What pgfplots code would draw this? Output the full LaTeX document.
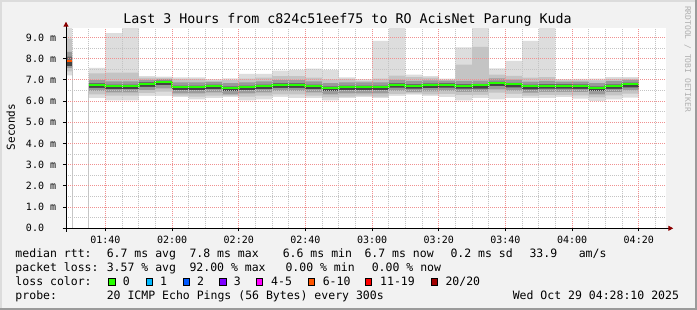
\documentclass[border=0pt]{standalone}
\usepackage{fontspec}
\setmainfont{DejaVu Sans Mono}
\usepackage{pgfplots}
\pgfplotsset{compat=1.18}
\usepackage{pgfplotstable}
\usetikzlibrary{arrows.meta}

\definecolor{bg}{HTML}{F2F2F2}
\definecolor{shadea}{HTML}{DCDCDC}
\definecolor{shadeb}{HTML}{9B9B9B}
\definecolor{mgrid}{HTML}{F09090}
\definecolor{ngrid}{HTML}{C4C4C4}
\definecolor{arrowc}{HTML}{8B0000}
\definecolor{wm}{HTML}{B0B0B0}
\definecolor{s1}{HTML}{DDDDDD}
\definecolor{s2}{HTML}{C4C4C4}
\definecolor{s3}{HTML}{9A9A9A}
\definecolor{s4}{HTML}{6A6A6A}
\definecolor{s5}{HTML}{444444}
\definecolor{l0}{HTML}{26FF00}
\definecolor{l1}{HTML}{00B8FF}
\definecolor{l2}{HTML}{0059FF}
\definecolor{l3}{HTML}{7E00FF}
\definecolor{l45}{HTML}{FF00FF}
\definecolor{l610}{HTML}{FF5500}
\definecolor{l1119}{HTML}{FF0000}
\definecolor{l20}{HTML}{A10000}

\newcommand\lf{\fontsize{11.5}{13}\selectfont}

\pgfplotstableread{
t   mn   l2   l3   l4   md   h4   h3   h2   mx
85  7.21 7.40 7.55 7.65 7.87 8.10 8.32 8.94 9.60
90  0    0    0    0    0    0    0    0    0
95  6.14 6.32 6.47 6.62 6.77 6.84 6.99 7.30 7.56
100 6.03 6.26 6.41 6.56 6.71 6.78 6.93 7.34 9.20
105 6.03 6.26 6.41 6.56 6.71 6.78 6.93 7.34 9.60
110 6.24 6.37 6.52 6.67 6.82 6.89 7.00 7.10 7.18
115 6.24 6.45 6.60 6.75 6.90 6.96 7.03 7.09 7.15
120 6.19 6.25 6.36 6.51 6.66 6.73 6.88 7.04 7.12
125 6.08 6.21 6.36 6.51 6.66 6.73 6.88 7.04 7.12
130 6.14 6.26 6.41 6.56 6.71 6.78 6.90 6.96 7.03
135 6.19 6.25 6.32 6.47 6.62 6.69 6.84 6.99 7.07
140 6.03 6.21 6.36 6.51 6.66 6.73 6.88 7.06 7.28
145 6.08 6.26 6.41 6.56 6.71 6.78 6.93 7.11 7.28
150 6.20 6.32 6.47 6.62 6.77 6.84 6.99 7.17 7.43
155 6.14 6.32 6.47 6.62 6.77 6.84 6.99 7.17 7.47
160 6.14 6.26 6.41 6.56 6.71 6.78 6.93 7.11 7.53
165 6.03 6.17 6.32 6.47 6.62 6.69 6.84 7.02 7.47
170 6.14 6.21 6.36 6.51 6.66 6.73 6.88 7.04 7.12
175 6.19 6.25 6.36 6.51 6.66 6.73 6.88 6.95 7.03
180 6.14 6.21 6.36 6.51 6.66 6.73 6.88 7.06 8.84
185 6.24 6.33 6.48 6.63 6.78 6.85 7.00 7.20 9.60
190 6.30 6.36 6.43 6.58 6.73 6.80 6.95 7.13 7.24
195 6.24 6.31 6.46 6.61 6.76 6.83 6.98 7.10 7.18
200 6.19 6.33 6.48 6.63 6.78 6.85 6.96 7.00 7.06
205 6.03 6.28 6.43 6.58 6.73 6.80 6.95 7.72 8.53
210 6.14 6.29 6.44 6.59 6.74 6.81 6.96 8.55 9.60
215 6.08 6.40 6.55 6.70 6.85 6.92 7.07 7.25 7.54
220 6.14 6.34 6.49 6.64 6.79 6.86 7.01 7.19 7.89
225 6.14 6.25 6.40 6.55 6.70 6.77 6.92 7.10 8.84
230 6.14 6.28 6.43 6.58 6.73 6.80 6.95 7.13 9.60
235 6.19 6.28 6.43 6.58 6.73 6.80 6.92 6.97 7.03
240 6.11 6.27 6.42 6.57 6.72 6.79 6.92 6.98 7.05
245 6.00 6.17 6.32 6.47 6.62 6.69 6.84 6.98 7.06
250 6.08 6.27 6.42 6.57 6.72 6.79 6.94 7.05 7.13
255 6.16 6.35 6.50 6.65 6.80 6.87 7.00 7.06 7.13
260 6.16 6.35 6.50 6.65 6.80 6.87 7.00 7.06 7.13
}\smoke

\begin{document}
\begin{tikzpicture}
\useasboundingbox (0,0) rectangle (697pt,310pt);
\fill[bg] (0,0) rectangle (697pt,310pt);
\fill[shadea] (0,0) rectangle (2pt,310pt);
\fill[shadea] (0,308pt) rectangle (697pt,310pt);
\fill[shadeb] (695pt,0) rectangle (697pt,310pt);
\fill[shadeb] (0,0) rectangle (697pt,2pt);

\begin{axis}[
  at={(66pt,81.7pt)}, anchor=south west,
  scale only axis, width=600pt, height=200pt,
  xmin=88.1667, xmax=268.1667, ymin=0, ymax=9.43,
  axis on top,
  axis background/.style={fill=white},
  axis lines*=left,
  axis line style={draw=black, line width=1pt},
  x axis line style={shorten <=-3.4pt, shorten >=-7.3pt, -{Triangle[length=5pt,width=5pt,color=arrowc]}},
  y axis line style={shorten <=-3.4pt, shorten >=-6.6pt, -{Triangle[length=5pt,width=5pt,color=arrowc]}},
  xtick={100,120,140,160,180,200,220,240,260},
  xticklabels={01:40,02:00,02:20,02:40,03:00,03:20,03:40,04:00,04:20},
  minor xtick={90,95,105,110,115,125,130,135,145,150,155,165,170,175,185,190,195,205,210,215,225,230,235,245,250,255,265},
  ytick={0,1,2,3,4,5,6,7,8,9},
  yticklabels={0.0\hphantom{mm},1.0 m,2.0 m,3.0 m,4.0 m,5.0 m,6.0 m,7.0 m,8.0 m,9.0 m},
  minor ytick={0.5,1.5,2.5,3.5,4.5,5.5,6.5,7.5,8.5},
  grid=both,
  major grid style={draw=mgrid, line width=1pt, dash pattern=on 1pt off 1pt},
  minor grid style={draw=ngrid, line width=1pt, dash pattern=on 1pt off 1pt},
  tick align=outside, major tick length=3pt, minor tick length=0pt,
  tick style={black, line width=1pt},
  ticklabel style={font=\fontsize{10}{12}\selectfont},
  xticklabel style={anchor=base, yshift=-12.4pt, inner sep=0pt},
  yticklabel style={anchor=east, inner sep=0pt, xshift=-6.7pt},
]
\addplot[const plot, fill=s1, draw=none] table[x=t,y=mx]{\smoke} \closedcycle;
\addplot[const plot, fill=s2, draw=none] table[x=t,y=h2]{\smoke} \closedcycle;
\addplot[const plot, fill=s3, draw=none] table[x=t,y=h3]{\smoke} \closedcycle;
\addplot[const plot, fill=s4, draw=none] table[x=t,y=h4]{\smoke} \closedcycle;
\addplot[const plot, fill=s5, draw=none] table[x=t,y=md]{\smoke} \closedcycle;
\addplot[const plot, fill=s3, draw=none] table[x=t,y=l4]{\smoke} \closedcycle;
\addplot[const plot, fill=s2, draw=none] table[x=t,y=l3]{\smoke} \closedcycle;
\addplot[const plot, fill=s1, draw=none] table[x=t,y=l2]{\smoke} \closedcycle;
\addplot[const plot, fill=white, draw=none] table[x=t,y=mn]{\smoke} \closedcycle;
\addplot[const plot, draw=l610, line width=2pt] coordinates {(85,7.87) (90,7.87)};
\addplot[const plot, draw=l0, line width=2pt, restrict x to domain=94:261] table[x=t,y=md]{\smoke};
\end{axis}

\node[anchor=base, inner sep=0pt, font=\fontsize{13.3}{15}\selectfont] at (347.5pt,286.7pt) {Last 3 Hours from c824c51eef75 to RO AcisNet Parung Kuda};
\node[rotate=90, anchor=base, inner sep=0pt, font=\fontsize{11}{13}\selectfont] at (15pt,183pt) {Seconds};
\node[rotate=-90, anchor=base, inner sep=0pt, font=\fontsize{8}{9}\selectfont, text=wm] at (685pt,251pt) {RRDTOOL / TOBI OETIKER};

\begin{scope}[every node/.style={anchor=base west, inner sep=0pt, font=\lf}]
\node at (15.3pt,52pt) {median rtt:};
\node at (106.6pt,52pt) {6.7 ms avg};
\node at (189.3pt,52pt) {7.8 ms max};
\node at (282.6pt,52pt) {6.6 ms min};
\node at (364.3pt,52pt) {6.7 ms now};
\node at (450.3pt,52pt) {0.2 ms sd};
\node at (529.3pt,52pt) {33.9};
\node at (578.6pt,52pt) {am/s};

\node at (15.3pt,38pt) {packet loss:};
\node at (106.6pt,38pt) {3.57 \% avg};
\node at (189.3pt,38pt) {92.00 \% max};
\node at (285.3pt,38pt) {0.00 \% min};
\node at (371.6pt,38pt) {0.00 \% now};

\node at (15.3pt,24pt) {loss color:};
\node at (122.6pt,24pt) {0};
\node at (160pt,24pt) {1};
\node at (197pt,24pt) {2};
\node at (233.6pt,24pt) {3};
\node at (271pt,24pt) {4-5};
\node at (322.6pt,24pt) {6-10};
\node at (380pt,24pt) {11-19};
\node at (445.3pt,24pt) {20/20};

\node at (15.3pt,10pt) {probe:};
\node at (106.6pt,10pt) {20 ICMP Echo Pings (56 Bytes) every 300s};
\node at (512.6pt,10pt) {Wed Oct 29 04:28:10 2025};
\end{scope}

\begin{scope}[line width=1pt, draw=black]
\filldraw[fill=l0]    (108.8pt,24.5pt) rectangle ++(6.3pt,6.7pt);
\filldraw[fill=l1]    (146.2pt,24.5pt) rectangle ++(6.3pt,6.7pt);
\filldraw[fill=l2]    (183.2pt,24.5pt) rectangle ++(6.3pt,6.7pt);
\filldraw[fill=l3]    (219.8pt,24.5pt) rectangle ++(6.3pt,6.7pt);
\filldraw[fill=l45]   (256.5pt,24.5pt) rectangle ++(6.3pt,6.7pt);
\filldraw[fill=l610]  (308.2pt,24.5pt) rectangle ++(6.3pt,6.7pt);
\filldraw[fill=l1119] (365.5pt,24.5pt) rectangle ++(6.3pt,6.7pt);
\filldraw[fill=l20]   (431.2pt,24.5pt) rectangle ++(6.3pt,6.7pt);
\end{scope}
\end{tikzpicture}
\end{document}
